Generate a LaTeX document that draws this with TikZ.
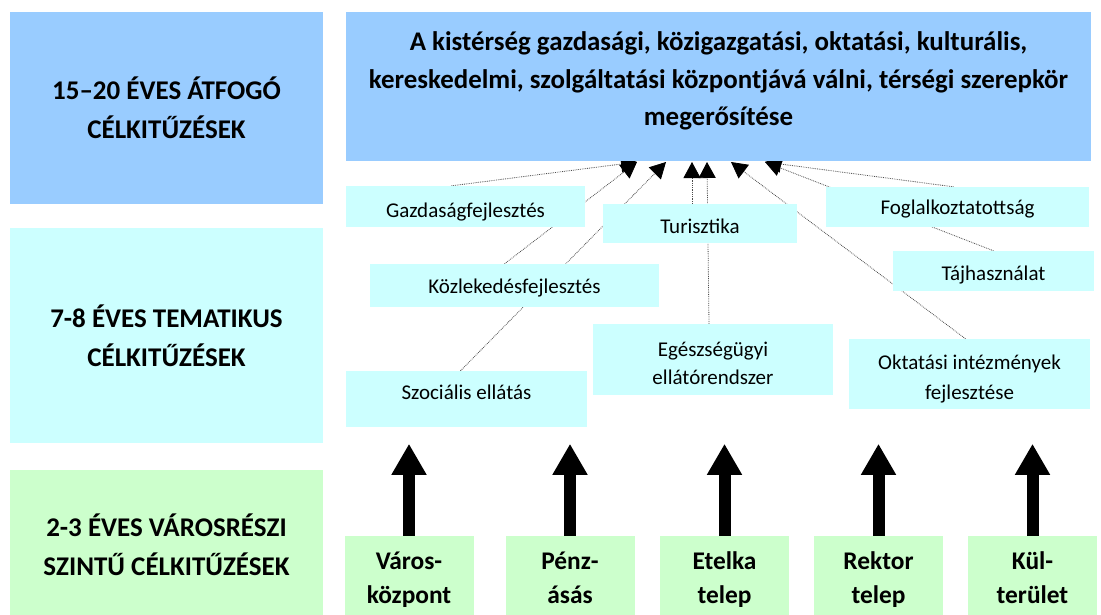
\documentclass[tikz,border=0pt]{standalone}
\usepackage{fontspec}
\setmainfont{Carlito}
\usepackage{tikz}
\usetikzlibrary{positioning}
\usetikzlibrary{shapes, arrows, arrows.meta, backgrounds}

\definecolor{kek}{HTML}{99CCFF}
\definecolor{turkiz}{HTML}{CCFFFF}
\definecolor{zold}{HTML}{CCFFCC}

\begin{document}
\begin{tikzpicture}[x=1pt,y=-1pt,
    every node/.style={inner sep=0pt, align=center},
    szint/.style={fill=#1, minimum width=313pt, font=\fontsize{27}{39}\selectfont\bfseries},
    tema/.style={fill=turkiz, font=\fontsize{21}{29}\selectfont},
    terulet/.style={fill=zold, minimum width=129pt, minimum height=80pt, text height=60pt, text depth=6pt,
                    font=\fontsize{25.4}{34}\selectfont\bfseries},
    kapcs/.style={densely dotted, line width=0.8pt, black!70, -{Triangle[length=16pt,width=17pt,color=black]}},
    nagynyil/.style={line width=12pt, -{Triangle[length=31pt,width=33pt]}}]
            \useasboundingbox (0,0) rectangle (1101,614);

            % bal oldali szintek
            \node[szint=kek, minimum height=192pt] (sz1) at (166.5,108) {15–20 ÉVES ÁTFOGÓ\\CÉLKITŰZÉSEK};
            \node[szint=turkiz, minimum height=215pt] (sz2) at (166.5,335.5) {7-8 ÉVES TEMATIKUS\\CÉLKITŰZÉSEK};
            \node[szint=zold, minimum height=150pt] (sz3) at (166.5,545) {2-3 ÉVES VÁROSRÉSZI\\SZINTŰ CÉLKITŰZÉSEK};

            % atfogo cel
            \node[fill=kek, minimum width=745pt, minimum height=149pt, text height=84pt, text depth=6pt,
                  font=\fontsize{26.9}{37.5}\selectfont\bfseries] (cel) at (718.5,86.5)
                {A kistérség gazdasági, közigazgatási, oktatási, kulturális,\\
                 kereskedelmi, szolgáltatási központjává válni, térségi szerepkör\\
                 megerősítése};

            % tematikus celok
            \node[tema, minimum width=239pt, minimum height=41pt, text height=25pt, text depth=4pt] (gazd) at (465.5,206.5) {Gazdaságfejlesztés};
            \node[tema, minimum width=194pt, minimum height=39pt, text height=23pt, text depth=4pt] (turi) at (700,223.5) {Turisztika};
            \node[tema, minimum width=263pt, minimum height=40pt, text height=19pt, text depth=4pt] (fogl) at (957.5,207) {Foglalkoztatottság};
            \node[tema, minimum width=201pt, minimum height=40pt, text height=22pt, text depth=4pt] (taj) at (993.5,271) {Tájhasználat};
            \node[tema, minimum width=289pt, minimum height=43pt, text height=19pt, text depth=4pt] (kozl) at (514.5,285.5) {Közlekedésfejlesztés};
            \node[tema, minimum width=240pt, minimum height=71pt, text height=51pt, text depth=1pt,
                  font=\fontsize{21}{28}\selectfont] (eg) at (713,359.5) {Egészségügyi\\ellátórendszer};
            \node[tema, minimum width=241pt, minimum height=56pt, text height=16pt, text depth=15pt] (szoc) at (466.5,399) {Szociális ellátás};
            \node[tema, minimum width=241pt, minimum height=70pt, text height=54pt, text depth=4pt,
                  font=\fontsize{21}{30}\selectfont] (okt) at (969.5,374) {Oktatási intézmények\\fejlesztése};

            % varosreszek
            \node[terulet] (vk) at (409,576) {Város-\\központ};
            \node[terulet] (pa) at (570,576) {Pénz-\\ásás};
            \node[terulet] (et) at (724.5,576) {Etelka\\telep};
            \node[terulet] (rt) at (878.5,576) {Rektor\\telep};
            \node[terulet] (kt) at (1032.5,576) {Kül-\\terület};

            \coordinate (c1) at (637,162);
            \coordinate (c2) at (666,162);
            \coordinate (c3) at (692,162);
            \coordinate (c4) at (707,162);
            \coordinate (c5) at (731,162);
            \coordinate (c6) at (765,162);

            \begin{pgfonlayer}{background}
            \draw[kapcs] ([xshift=-14pt]gazd.north) -- (c1);
            \draw[kapcs] ([xshift=-10pt]kozl.north) -- (c1);
            \draw[kapcs] ([xshift=-6pt]szoc.north) -- (c2);
            \draw[kapcs] ([xshift=-8pt]turi.north) -- (c3);
            \draw[kapcs] ([xshift=-4pt]eg.north) -- (c4);
            \draw[kapcs] ([xshift=-4pt]okt.north) -- (c5);
            \draw[kapcs] ([xshift=-4pt]fogl.north) -- (c6);
            \draw[kapcs] (taj.north) -- (c6);
            \end{pgfonlayer}

            \foreach \t in {vk,pa,et,rt,kt}
                \draw[nagynyil] (\t.north) -- ++(0,-92);
    \end{tikzpicture}
\end{document}
